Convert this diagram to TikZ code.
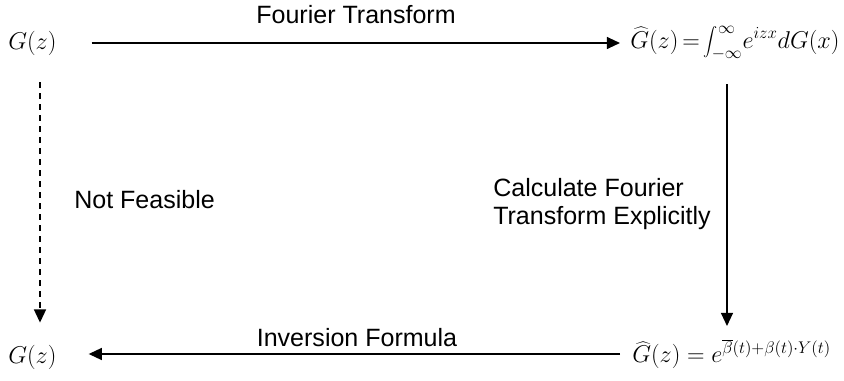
\documentclass[tikz,border=0pt]{standalone}
\usepackage{fontspec}
\setmainfont{Liberation Sans}
\usetikzlibrary{arrows.meta,positioning}
\begin{document}
\begin{tikzpicture}[
    x=0.025cm, y=-0.025cm,
    every node/.style={font=\fontsize{17.8}{19.6}\selectfont},
    eq/.style={inner sep=0pt,anchor=west},
    lbl/.style={align=left,inner sep=0pt},
    arr/.style={-{Triangle[length=0.33cm,width=0.3cm]},line width=1.1pt},
    dasharr/.style={arr,dash pattern=on 0.15cm off 0.125cm}
]
\useasboundingbox (0,0) rectangle (844,381);
\coordinate (lcol) at (40,0);
\coordinate (rcol) at (727,0);
\node[eq] (G1) at (8,43) {$G(z)$};
\node[eq] (Ghat1) at (630,43) {\thickmuskip=3mu$\widehat{G}(z)=\displaystyle\int_{-\infty}^{\infty}\!e^{izx}dG(x)$};
\node[eq] (G2) at (8,357) {$G(z)$};
\node[eq] (Ghat2) at (632,354) {$\widehat{G}(z)=e^{\overline{\beta}(t)+\beta(t)\cdot Y(t)}$};
\node[lbl] (ft) at (356,15) {Fourier Transform};
\node[lbl] (inv) at (357,338) {Inversion Formula};
\node[lbl,anchor=west] (nf) at (74,200) {Not Feasible};
\node[lbl,anchor=west] (calc) at (493,204) {Calculate Fourier\\Transform Explicitly};
\draw[arr,shorten <=0.875cm,shorten >=0.25cm] (G1.east) -- (G1.east -| Ghat1.west);
\draw[arr,shorten <=0.3cm,shorten >=0.8cm] (Ghat2.west) -- (Ghat2.west -| G2.east);
\draw[dasharr,shorten <=0.675cm,shorten >=0.55cm] (G1.south -| lcol) -- (G2.north -| lcol);
\draw[arr,shorten <=0.6cm,shorten >=0.325cm] (Ghat1.south -| rcol) -- (Ghat2.north -| rcol);
\end{tikzpicture}
\end{document}
